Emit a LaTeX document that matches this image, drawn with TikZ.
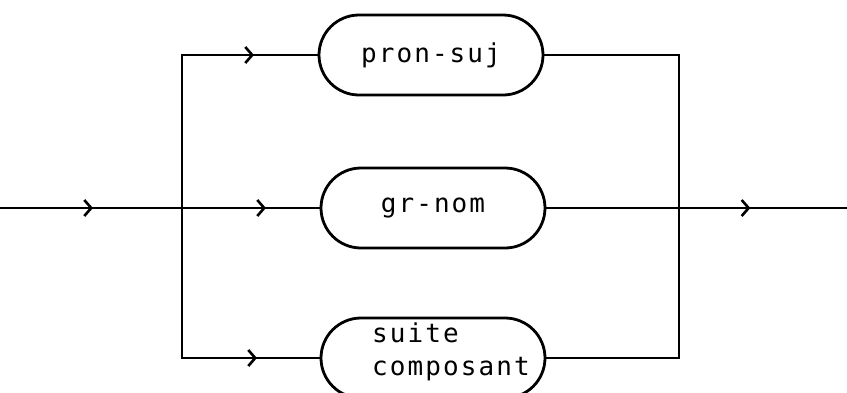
\documentclass[tikz,border=0pt]{standalone}
\usepackage{fontspec}
\newfontfamily\plotfont[LetterSpace=8]{DejaVu Sans Mono}
\usetikzlibrary{arrows.meta,decorations.markings,shapes.misc}
\tikzset{
  conn/.style={line width=2.8pt},
  chev/.style={postaction={decorate},decoration={markings,
     mark=at position #1 with {\arrow{Straight Barb[length=7pt,width=16pt,line width=2.6pt]}}}},
  labelfont/.style={font=\plotfont\fontsize{26}{33}\selectfont},
  termbox/.style={rounded rectangle, draw, line width=2.8pt,
     minimum width=224pt, minimum height=80pt, inner sep=0pt, labelfont}
}
\begin{document}
\begin{tikzpicture}[x=1pt,y=-1pt]
\useasboundingbox (0,0) rectangle (847,392);
\node[termbox] (top) at (431,55) {pron-suj};
\node[termbox] (mid) at (433,208) {gr-nom};
\node[termbox] (bot) at (433,358) {};
\node[labelfont, inner sep=0pt, anchor=base west] (botlabel) at (372,342)
  {\begin{tabular}[t]{@{}l@{}}suite\\composant\end{tabular}};
\coordinate (in) at (0,208);
\coordinate (out) at (847,208);
\coordinate (j1) at (182,208);
\coordinate (j2) at (679,208);
\draw[conn,chev=93pt] (in) -- (j1);
\draw[conn,chev=84pt] (j1) -- (mid.west);
\draw[conn,chev=204pt] (mid.east) -- (j2) -- (out);
\draw[conn,chev=225pt] (j1) |- (top.west);
\draw[conn,chev=225pt] (j1) |- (bot.west);
\draw[conn] (top.east) -| (j2);
\draw[conn] (bot.east) -| (j2);
\end{tikzpicture}
\end{document}
